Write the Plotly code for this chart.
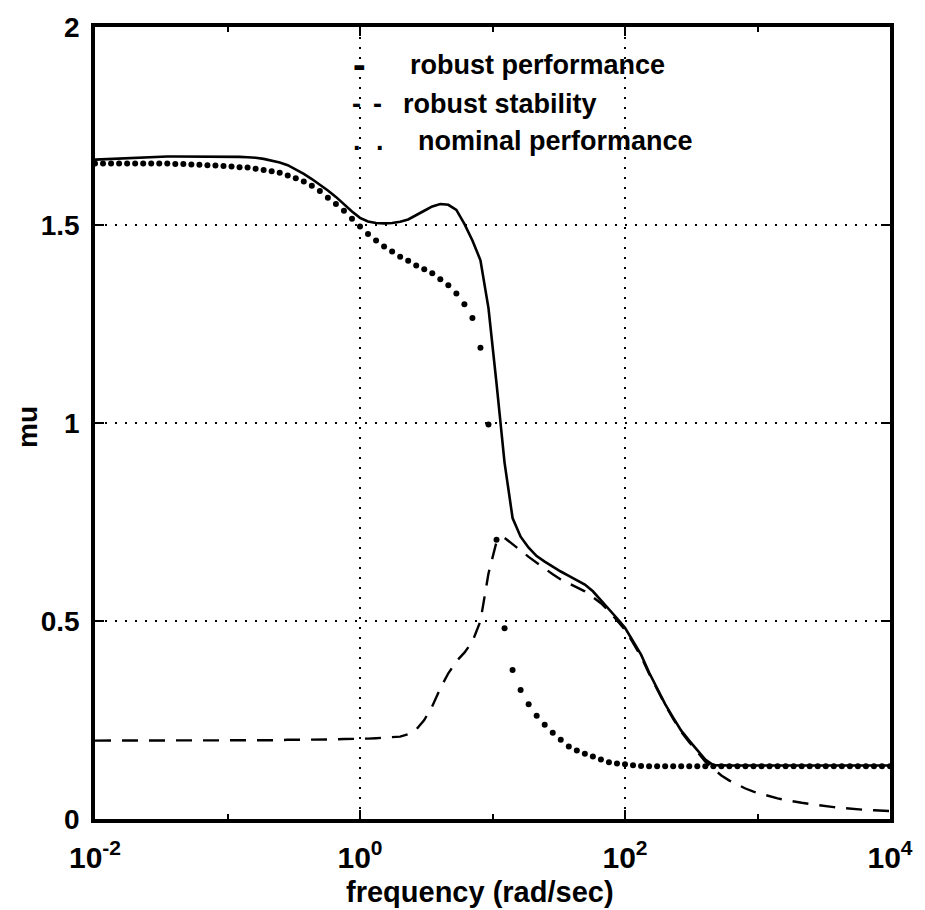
import numpy as np
import plotly.graph_objects as go

# Frequency grid (rad/sec): 100 log-spaced points from 10^-2 to 10^4
freq = np.logspace(-2, 4, 100)

# mu upper bounds at each frequency
robust_perf = [
    1.665, 1.666, 1.667, 1.668, 1.669, 1.670, 1.671, 1.672, 1.672, 1.673,
    1.673, 1.673, 1.673, 1.673, 1.673, 1.673, 1.673, 1.673, 1.672, 1.671,
    1.670, 1.667, 1.663, 1.658, 1.651, 1.641, 1.629, 1.616, 1.602, 1.587,
    1.571, 1.552, 1.534, 1.518, 1.509, 1.505, 1.504, 1.505, 1.508, 1.514,
    1.524, 1.536, 1.547, 1.553, 1.551, 1.538, 1.503, 1.461, 1.411, 1.290,
    1.100, 0.900, 0.760, 0.713, 0.685, 0.664, 0.650, 0.637, 0.625, 0.614,
    0.603, 0.592, 0.575, 0.553, 0.530, 0.507, 0.483, 0.450, 0.415, 0.370,
    0.330, 0.290, 0.256, 0.223, 0.198, 0.173, 0.150, 0.136, 0.135, 0.135,
    0.135, 0.135, 0.135, 0.135, 0.135, 0.135, 0.135, 0.135, 0.135, 0.135,
    0.135, 0.135, 0.135, 0.135, 0.135, 0.135, 0.135, 0.135, 0.135, 0.135,
]

robust_stab = [
    0.198, 0.198, 0.198, 0.198, 0.198, 0.198, 0.198, 0.198, 0.198, 0.198,
    0.198, 0.198, 0.198, 0.198, 0.198, 0.198, 0.198, 0.198, 0.198, 0.198,
    0.199, 0.199, 0.199, 0.199, 0.200, 0.200, 0.200, 0.200, 0.201, 0.201,
    0.201, 0.202, 0.202, 0.203, 0.203, 0.204, 0.205, 0.206, 0.208, 0.214,
    0.226, 0.250, 0.285, 0.330, 0.368, 0.398, 0.420, 0.448, 0.500, 0.620,
    0.700, 0.710, 0.693, 0.678, 0.662, 0.647, 0.632, 0.618, 0.605, 0.594,
    0.585, 0.575, 0.561, 0.545, 0.525, 0.502, 0.478, 0.445, 0.410, 0.367,
    0.327, 0.288, 0.253, 0.220, 0.194, 0.168, 0.145, 0.127, 0.110, 0.097,
    0.086, 0.077, 0.069, 0.063, 0.057, 0.052, 0.048, 0.044, 0.041, 0.038,
    0.035, 0.032, 0.030, 0.028, 0.026, 0.024, 0.023, 0.022, 0.021, 0.020,
]

nominal_perf = [
    1.655, 1.655, 1.655, 1.655, 1.655, 1.655, 1.655, 1.655, 1.655, 1.655,
    1.654, 1.654, 1.653, 1.652, 1.651, 1.650, 1.649, 1.648, 1.646, 1.645,
    1.642, 1.639, 1.636, 1.632, 1.625, 1.618, 1.610, 1.599, 1.586, 1.569,
    1.553, 1.536, 1.516, 1.496, 1.477, 1.461, 1.446, 1.433, 1.420, 1.410,
    1.398, 1.388, 1.378, 1.363, 1.348, 1.327, 1.300, 1.265, 1.190, 0.996,
    0.705, 0.482, 0.376, 0.326, 0.290, 0.261, 0.238, 0.218, 0.200, 0.183,
    0.173, 0.165, 0.158, 0.150, 0.143, 0.140, 0.138, 0.136, 0.134, 0.133,
    0.133, 0.133, 0.133, 0.133, 0.133, 0.133, 0.133, 0.133, 0.133, 0.133,
    0.133, 0.133, 0.133, 0.133, 0.133, 0.133, 0.133, 0.133, 0.133, 0.133,
    0.133, 0.133, 0.133, 0.133, 0.133, 0.133, 0.133, 0.133, 0.133, 0.133,
]

x_tickvals = [1e-2, 1e0, 1e2, 1e4]
x_ticktext = ["10<sup>-2</sup>", "10<sup>0</sup>", "10<sup>2</sup>", "10<sup>4</sup>"]
x_minor_ticks = [1e-1, 1e1, 1e3]
y_tickvals = [0, 0.5, 1, 1.5, 2]
y_ticktext = ["0", "0.5", "1", "1.5", "2"]
series_labels = ["robust performance", "robust stability", "nominal performance"]

W, H = 925, 910
L, R, T, B = 95, 29, 22, 91
FONT = "Liberation Sans, Arial, Helvetica, sans-serif"


def px(x):
    return (x - L) / (W - L - R)


def py(y):
    return (H - B - y) / (H - T - B)


fig = go.Figure()
fig.add_trace(go.Scatter(
    x=freq, y=robust_perf, mode="lines", name=series_labels[0],
    line=dict(color="black", width=2.6),
))
fig.add_trace(go.Scatter(
    x=freq, y=robust_stab, mode="lines", name=series_labels[1],
    line=dict(color="black", width=2.4, dash="16px,11px"),
))
fig.add_trace(go.Scatter(
    x=freq, y=nominal_perf, mode="markers", name=series_labels[2],
    marker=dict(color="black", size=6, line=dict(width=0)),
))

axis_common = dict(
    showline=True, linecolor="black", linewidth=3.5, mirror="ticks",
    ticks="inside", ticklen=9, tickwidth=2, tickcolor="black",
    showgrid=True, gridcolor="black", gridwidth=2, griddash="2px,8px",
    zeroline=False,
)

fig.update_xaxes(
    type="log", range=[-2, 4],
    tickmode="array", tickvals=x_tickvals, ticktext=x_ticktext,
    tickfont=dict(family=FONT, size=30, color="black", weight="bold"),
    ticklabelstandoff=9,
    minor=dict(tickvals=x_minor_ticks, ticks="inside", ticklen=5,
               tickwidth=2, tickcolor="black", showgrid=False),
    **axis_common,
)
fig.update_yaxes(
    range=[0, 2],
    tickmode="array", tickvals=y_tickvals, ticktext=y_ticktext,
    tickfont=dict(family=FONT, size=28, color="black", weight="bold"),
    ticklabelstandoff=6,
    **axis_common,
)

label_font = dict(family=FONT, size=29, color="black", weight="bold")
text_font = dict(family=FONT, size=27, color="black", weight="bold")
annotations = [
    # axis labels
    dict(text="frequency (rad/sec)", x=px(483), y=py(892), xref="paper", yref="paper",
         xanchor="center", yanchor="middle", showarrow=False, font=label_font),
    dict(text="mu", x=px(27), y=py(425), xref="paper", yref="paper", textangle=-90,
         xanchor="center", yanchor="middle", showarrow=False,
         font=dict(family=FONT, size=28, color="black", weight="bold")),
]

# in-plot key: line-style marks followed by the series names
key_rows = [60, 99, 137]
key_label_x = [410, 403, 418]
key_marks = [
    [("-", 353, 38)],
    [("-", 352, 27), ("-", 373, 27)],
    [(".", 353, 27), (".", 376, 27)],
]
for row_y, lab_x, label, marks in zip(key_rows, key_label_x, series_labels, key_marks):
    for ch, mx, fs in marks:
        annotations.append(dict(
            text=ch, x=px(mx), y=py(row_y), xref="paper", yref="paper",
            xanchor="left", yanchor="middle", showarrow=False,
            font=dict(family=FONT, size=fs, color="black", weight="bold"),
        ))
    annotations.append(dict(
        text=label, x=px(lab_x), y=py(row_y), xref="paper", yref="paper",
        xanchor="left", yanchor="middle", showarrow=False, font=text_font,
    ))

fig.update_layout(
    width=W, height=H, autosize=False,
    margin=dict(l=L, r=R, t=T, b=B),
    paper_bgcolor="white", plot_bgcolor="white",
    showlegend=False,
    font=dict(family=FONT, color="black"),
    annotations=annotations,
)

fig.write_html("out.html")
